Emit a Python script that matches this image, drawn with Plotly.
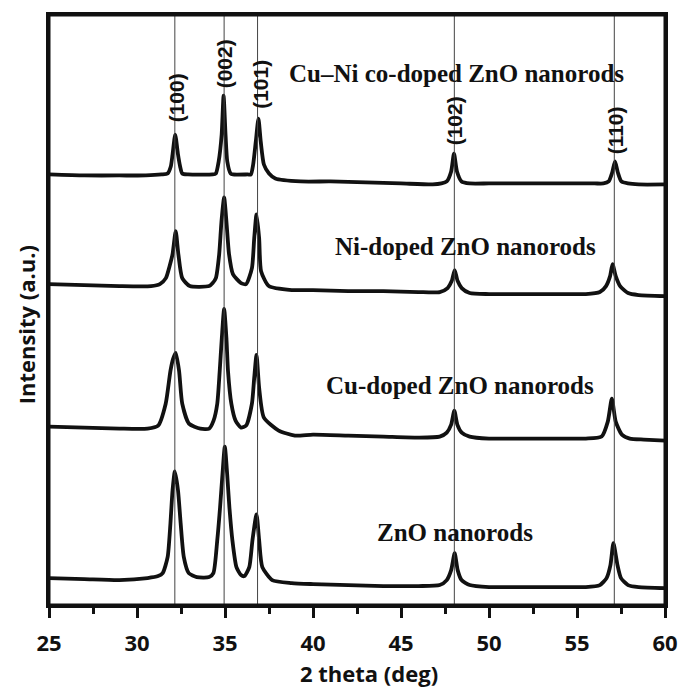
import plotly.graph_objects as go

# ---- data (2 theta in deg, intensity in arbitrary units) ----
zno_x = [25, 27, 29, 30.6, 31.2, 31.46, 31.74, 31.9, 32.02, 32.15, 32.33, 32.48, 32.66, 32.94, 33.4,
         34.1, 34.34, 34.56, 34.72, 34.86, 34.99, 35.12, 35.25, 35.42, 35.65, 35.91, 36.1, 36.38, 36.56,
         36.79, 36.94, 37.12, 37.68, 38.79, 40, 42, 44, 46, 47.2, 47.6, 47.85, 48.05, 48.22, 48.44,
         48.9, 50, 52, 54, 55.5, 56.3, 56.68, 56.9, 57.07, 57.3, 57.5, 57.9, 58.5, 60]
zno_y = [27, 26, 25, 27, 29, 32, 48, 82, 115, 134, 115, 82, 48, 32, 28,
         28, 32, 65, 98, 132, 159, 132, 98, 65, 38, 30, 29, 38, 65,
         91, 65, 38, 25, 22, 21, 20, 19, 19, 20, 25, 35, 52, 35, 25,
         20, 18, 18, 18, 18, 20, 27, 40, 62, 40, 27, 20, 18, 17]

cu_x = [25, 27, 29, 30.6, 31.2, 31.63, 31.9, 32.05, 32.2, 32.39, 32.57, 32.95, 33.6, 34.1, 34.35,
        34.56, 34.7, 34.82, 34.95, 35.08, 35.17, 35.36, 35.6, 35.91, 36.2, 36.53, 36.66, 36.79, 36.94,
        37.21, 38.05, 38.97, 40, 42, 44, 46, 47.2, 47.6, 47.85, 48.03, 48.2, 48.45, 48.9, 50, 52,
        54, 55.5, 56.4, 56.75, 56.98, 57.2, 57.55, 58, 58.8, 60]
cu_y = [179, 178, 177, 177, 180, 202, 235, 247, 253, 235, 202, 182, 177, 177, 185,
        202, 235, 268, 297, 268, 235, 202, 185, 178, 180, 202, 228, 251, 218,
        188, 175, 170, 171, 170, 169, 168, 169, 173, 181, 195, 181, 173, 169, 167, 167,
        167, 167, 169, 184, 207, 184, 171, 167, 166, 165]

ni_x = [25, 27, 29, 30.8, 31.3, 31.64, 31.85, 32.02, 32.2, 32.35, 32.57, 33.0, 34.1, 34.3, 34.48,
        34.67, 34.8, 34.95, 35.08, 35.23, 35.45, 35.91, 36.2, 36.53, 36.66, 36.79, 36.94, 37.05, 37.49,
        38.79, 40, 42, 44, 46, 47.2, 47.65, 47.88, 48.05, 48.22, 48.45, 48.9, 50, 52, 54, 55.5,
        56.3, 56.65, 56.88, 57.02, 57.2, 57.45, 57.9, 58.5, 60]
ni_y = [322, 321, 320, 320, 322, 328, 340, 352, 375, 352, 328, 320, 320, 323, 328,
        352, 385, 409, 385, 352, 332, 323, 322, 338, 368, 392, 368, 335, 320,
        316, 316, 315, 315, 314, 314, 318, 325, 336, 325, 318, 313, 312, 312, 312, 312,
        314, 320, 330, 342, 330, 320, 313, 311, 310]

cuni_x = [25, 27, 29, 30.5, 31.4, 31.74, 31.92, 32.02, 32.17, 32.33, 32.45, 32.57, 32.9, 34.3, 34.48,
          34.64, 34.81, 34.92, 35.03, 35.13, 35.32, 35.45, 36.3, 36.47, 36.6, 36.75, 36.9, 37.03, 37.21,
          37.5, 37.86, 39.3, 41, 43, 45, 46.8, 47.3, 47.6, 47.85, 48.01, 48.18, 48.44, 48.9, 50, 52,
          54, 56.0, 56.5, 56.8, 57.0, 57.16, 57.32, 57.52, 57.9, 58.5, 60]
cuni_y = [432, 431, 431, 431, 432, 433, 440, 452, 472, 452, 440, 433, 432, 432, 433,
          445, 472, 511, 472, 445, 433, 432, 432, 432, 442, 465, 488, 465, 442,
          433, 428, 425, 425, 424, 423, 422, 423, 425, 435, 453, 435, 425, 423, 423, 423,
          423, 423, 423, 425, 434, 445, 434, 425, 423, 422, 422]

sample_names = ["ZnO nanorods", "Cu-doped ZnO nanorods", "Ni-doped ZnO nanorods",
                "Cu\u2013Ni co-doped ZnO nanorods"]
sample_label_x = [48.05, 48.33, 48.66, 48.16]
sample_label_y = [73, 220, 360, 533]

hkl_labels = ["(100)", "(002)", "(101)", "(102)", "(110)"]
hkl_pos = [32.15, 34.95, 36.85, 48.03, 57.12]
hkl_label_x = [32.25, 34.97, 37.05, 48.05, 57.2]
hkl_label_y = [509, 543, 522, 486, 476]

x_ticks = [25, 30, 35, 40, 45, 50, 55, 60]

fig = go.Figure()

for xs, ys in [(zno_x, zno_y), (cu_x, cu_y), (ni_x, ni_y), (cuni_x, cuni_y)]:
    fig.add_trace(go.Scatter(x=xs, y=ys, mode="lines",
                             line=dict(color="#111111", width=3.8, shape="spline", smoothing=0.6),
                             showlegend=False, hoverinfo="skip"))

for p in hkl_pos:
    fig.add_shape(type="line", xref="x", yref="y domain", x0=p, x1=p, y0=0, y1=1,
                  line=dict(color="#444444", width=1), layer="above")

# plot frame (paper refs so it is not clipped)
fig.add_shape(type="rect", xref="paper", yref="paper", x0=0, x1=1, y0=0, y1=1,
              line=dict(color="#111111", width=3), fillcolor="rgba(0,0,0,0)", layer="above")

for t, xx, yy in zip(hkl_labels, hkl_label_x, hkl_label_y):
    fig.add_annotation(x=xx, y=yy, xref="x", yref="y", text=t, showarrow=False,
                       textangle=-90, xanchor="center", yanchor="middle",
                       font=dict(family="Liberation Sans", size=21, color="#111111", weight="bold"))

for t, xx, yy in zip(sample_names, sample_label_x, sample_label_y):
    fig.add_annotation(x=xx, y=yy, xref="x", yref="y", text=t, showarrow=False,
                       xanchor="center", yanchor="middle",
                       font=dict(family="Liberation Serif", size=25, color="#111111", weight="bold"))

fig.add_annotation(x=-0.038, y=0.475, xref="paper", yref="paper", text="Intensity (a.u.)",
                   showarrow=False, textangle=-90, xanchor="center", yanchor="middle",
                   font=dict(family="Open Sans", size=22, color="#111111", weight="bold"))
fig.add_annotation(x=0.519, y=-0.116, xref="paper", yref="paper", text="2 theta (deg)",
                   showarrow=False, xanchor="center", yanchor="middle",
                   font=dict(family="Open Sans", size=22, color="#111111", weight="bold"))

fig.update_xaxes(range=[25, 60], tickvals=x_ticks, ticktext=[str(v) for v in x_ticks],
                 ticks="outside", ticklen=10, tickwidth=3, tickcolor="#111111",
                 ticklabelstandoff=7,
                 minor=dict(dtick=2.5, tick0=25, ticks="outside", ticklen=6, tickwidth=3, tickcolor="#111111"),
                 showline=True, linewidth=3, linecolor="#111111", mirror=True,
                 showgrid=False, zeroline=False,
                 tickfont=dict(family="Open Sans", size=22, color="#111111", weight="bold"))
fig.update_yaxes(range=[0, 592], showline=True, linewidth=3, linecolor="#111111", mirror=True,
                 showticklabels=False, ticks="", showgrid=False, zeroline=False)

fig.update_layout(width=690, height=690, margin=dict(l=49, r=17, t=13, b=85),
                  plot_bgcolor="white", paper_bgcolor="white")

fig.write_html("out.html", config={"displayModeBar": False},
               post_script="document.documentElement.style.overflow='hidden';"
                           "document.body.style.overflow='hidden';"
                           "document.body.style.margin='0';document.body.style.padding='0';")
